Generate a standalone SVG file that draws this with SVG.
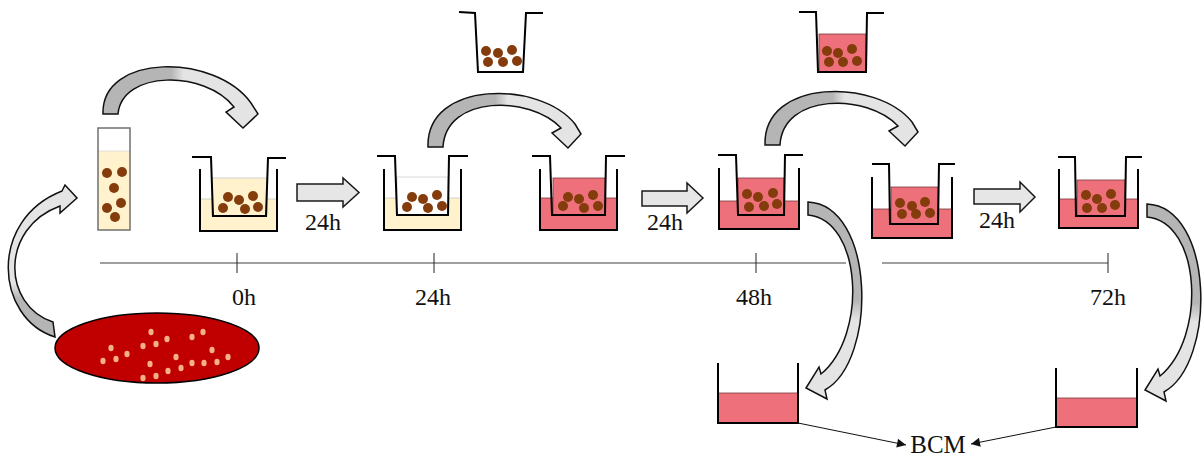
<svg xmlns="http://www.w3.org/2000/svg" width="1204" height="459" viewBox="0 0 1204 459">
  <style>
    .wall { fill: none; stroke: #000; stroke-width: 2; stroke-linejoin: miter; }
    .cream { fill: #FFF2CC; stroke: #C9C9C9; stroke-width: 0.8; }
    .pink { fill: #EE707A; stroke: #7a3a3f; stroke-width: 0.8; }
    .empty { fill: #fff; stroke: #D0D0D0; stroke-width: 0.8; }
    .cell { fill: #843C0C; }
    .colony { fill: #F4B183; }
    .block { fill: #E7E6E6; stroke: #1a1a1a; stroke-width: 1.5; stroke-linejoin: miter; }
    .curl { stroke: #111; stroke-width: 1.5; stroke-linejoin: miter; }
    .lbl { font-family: "Liberation Serif", "Times New Roman", serif; font-size: 24px; fill: #111; }
    .axis { stroke: #7F7F7F; stroke-width: 1.6; fill: none; }
    .tick { stroke: #222; stroke-width: 1; }
    .link { stroke: #111; stroke-width: 1; fill: none; marker-end: url(#head); }
  </style>
  <defs>
    <marker id="head" viewBox="0 0 10 10" refX="10" refY="5" markerWidth="11" markerHeight="9" markerUnits="userSpaceOnUse" orient="auto">
      <path d="M0,0 L10,5 L0,10 Z" fill="#111"/>
    </marker>
    <linearGradient id="shadeH" x1="0" y1="0" x2="1" y2="0">
      <stop offset="0" stop-color="#B5B5B5"/>
      <stop offset="0.44" stop-color="#B5B5B5"/>
      <stop offset="0.52" stop-color="#E4E4E4"/>
      <stop offset="1" stop-color="#E4E4E4"/>
    </linearGradient>
    <linearGradient id="shadeUp" x1="0" y1="1" x2="0" y2="0">
      <stop offset="0" stop-color="#B5B5B5"/>
      <stop offset="0.25" stop-color="#B5B5B5"/>
      <stop offset="0.35" stop-color="#E4E4E4"/>
      <stop offset="1" stop-color="#E4E4E4"/>
    </linearGradient>
    <linearGradient id="shadeDown" x1="0" y1="0" x2="0" y2="1">
      <stop offset="0" stop-color="#B5B5B5"/>
      <stop offset="0.5" stop-color="#B5B5B5"/>
      <stop offset="0.6" stop-color="#E4E4E4"/>
      <stop offset="1" stop-color="#E4E4E4"/>
    </linearGradient>
    <!-- curved transfer arrow, insert to insert -->
    <path id="curlOver" class="curl" fill="url(#shadeH)"
          d="M428,147 C426,80 540,80 575,124 L581,134 L568,148 L552,133 L561,128 C530,95 446,95 443,147 Z"/>
    <!-- curved collection arrow, well to supernatant -->
    <path id="curlDown" class="curl" fill="url(#shadeDown)"
          d="M808,202 C875,205 878,360 825,390 L827,399 L806,388 L819,367 L821,374 C868,335 862,220 808,215 Z"/>
  </defs>

  <!-- timeline -->
  <g id="timeline">
    <line class="axis" x1="100" y1="263" x2="846" y2="263"/>
    <line class="axis" x1="882" y1="263" x2="1108" y2="263"/>
    <line class="tick" x1="237" y1="253" x2="237" y2="273"/>
    <line class="tick" x1="434" y1="253" x2="434" y2="273"/>
    <line class="tick" x1="756" y1="253" x2="756" y2="273"/>
    <line class="tick" x1="1108" y1="253" x2="1108" y2="273"/>
    <text class="lbl" x="244" y="305" text-anchor="middle">0h</text>
    <text class="lbl" x="433" y="305" text-anchor="middle">24h</text>
    <text class="lbl" x="754" y="305" text-anchor="middle">48h</text>
    <text class="lbl" x="1108" y="305" text-anchor="middle">72h</text>
  </g>

  <!-- agar plate with colonies -->
  <g id="petri">
    <ellipse cx="157" cy="348" rx="102" ry="35" fill="#C00000" stroke="#000" stroke-width="1.5"/>
    <g class="colony">
      <ellipse cx="151" cy="332" rx="2.6" ry="3.2"/>
      <ellipse cx="203" cy="332" rx="2.6" ry="3.2"/>
      <ellipse cx="192" cy="337" rx="2.6" ry="3.2"/>
      <ellipse cx="167" cy="339" rx="2.6" ry="3.2"/>
      <ellipse cx="156" cy="344" rx="2.6" ry="3.2"/>
      <ellipse cx="143" cy="346" rx="2.6" ry="3.2"/>
      <ellipse cx="111" cy="348" rx="2.6" ry="3.2"/>
      <ellipse cx="212" cy="350" rx="2.6" ry="3.2"/>
      <ellipse cx="127" cy="354" rx="2.6" ry="3.2"/>
      <ellipse cx="116" cy="359" rx="2.6" ry="3.2"/>
      <ellipse cx="103" cy="361" rx="2.6" ry="3.2"/>
      <ellipse cx="176" cy="357" rx="2.6" ry="3.2"/>
      <ellipse cx="228" cy="357" rx="2.6" ry="3.2"/>
      <ellipse cx="150" cy="364" rx="2.6" ry="3.2"/>
      <ellipse cx="192" cy="363" rx="2.6" ry="3.2"/>
      <ellipse cx="204" cy="363" rx="2.6" ry="3.2"/>
      <ellipse cx="217" cy="362" rx="2.6" ry="3.2"/>
      <ellipse cx="181" cy="368" rx="2.6" ry="3.2"/>
      <ellipse cx="168" cy="371" rx="2.6" ry="3.2"/>
      <ellipse cx="156" cy="376" rx="2.6" ry="3.2"/>
      <ellipse cx="143" cy="378" rx="2.6" ry="3.2"/>
    </g>
  </g>

  <!-- overnight culture tube -->
  <g id="tube">
    <rect x="98" y="128" width="32" height="102" fill="#fff"/>
    <rect x="98" y="151" width="32" height="79" fill="#FFF2CC"/>
    <line x1="98" y1="151" x2="130" y2="151" stroke="#D8D8D8" stroke-width="0.8"/>
    <rect x="98" y="128" width="32" height="102" fill="none" stroke="#6F6F6F" stroke-width="1.5"/>
    <circle class="cell" cx="107" cy="173" r="5"/>
    <circle class="cell" cx="122" cy="172" r="5"/>
    <circle class="cell" cx="114" cy="188" r="5"/>
    <circle class="cell" cx="107" cy="208" r="5"/>
    <circle class="cell" cx="121" cy="203" r="5"/>
    <circle class="cell" cx="115" cy="217" r="5"/>
  </g>

  <!-- 0h: insert seeded in plain medium -->
  <g id="well-0h">
    <rect class="cream" x="200" y="199" width="77" height="32"/>
    <rect class="cream" x="212" y="178" width="55" height="38"/>
    <path class="wall" d="M200,169 L200,231 L277,231 L277,169"/>
    <path class="wall" d="M192,157 L211,157 L213,216 L266,216 L268,158 L286,158"/>
    <circle class="cell" cx="228" cy="197" r="5"/>
    <circle class="cell" cx="239" cy="200" r="5"/>
    <circle class="cell" cx="253" cy="196" r="5"/>
    <circle class="cell" cx="223" cy="208" r="5"/>
    <circle class="cell" cx="245" cy="209" r="5"/>
    <circle class="cell" cx="258" cy="207" r="5"/>
  </g>

  <!-- 24h: medium drained from insert -->
  <g id="well-24h-drained">
    <rect class="cream" x="384" y="198" width="77" height="32"/>
    <rect class="empty" x="397" y="177" width="51" height="38"/>
    <path class="wall" d="M384,169 L384,230 L461,230 L461,169"/>
    <path class="wall" d="M377,156 L395,156 L397,215 L448,215 L449,156 L468,156"/>
    <circle class="cell" cx="412" cy="197" r="5"/>
    <circle class="cell" cx="423" cy="199" r="5"/>
    <circle class="cell" cx="437" cy="195" r="5"/>
    <circle class="cell" cx="407" cy="207" r="5"/>
    <circle class="cell" cx="428" cy="208" r="5"/>
    <circle class="cell" cx="442" cy="206" r="5"/>
  </g>

  <!-- 24h: insert moved to fresh culture medium -->
  <g id="well-24h-fresh">
    <rect class="pink" x="540" y="198" width="77" height="32"/>
    <rect class="pink" x="553" y="178" width="52" height="37"/>
    <path class="wall" d="M540,169 L540,230 L617,230 L617,169"/>
    <path class="wall" d="M532,156 L550,156 L552,215 L605,215 L606,156 L625,156"/>
    <circle class="cell" cx="568" cy="197" r="5"/>
    <circle class="cell" cx="579" cy="199" r="5"/>
    <circle class="cell" cx="593" cy="195" r="5"/>
    <circle class="cell" cx="563" cy="206" r="5"/>
    <circle class="cell" cx="584" cy="208" r="5"/>
    <circle class="cell" cx="598" cy="206" r="5"/>
  </g>

  <!-- 48h -->
  <g id="well-48h">
    <rect class="pink" x="719" y="201" width="80" height="28"/>
    <rect class="pink" x="738" y="178" width="46" height="37"/>
    <path class="wall" d="M719,168 L719,229 L799,229 L799,168"/>
    <path class="wall" d="M718,155 L736,155 L738,215 L784,215 L785,155 L803,155"/>
    <circle class="cell" cx="747" cy="194" r="5"/>
    <circle class="cell" cx="758" cy="197" r="5"/>
    <circle class="cell" cx="773" cy="193" r="5"/>
    <circle class="cell" cx="749" cy="207" r="5"/>
    <circle class="cell" cx="764" cy="206" r="5"/>
    <circle class="cell" cx="777" cy="204" r="5"/>
  </g>

  <!-- 48h: insert moved to new well -->
  <g id="well-48h-moved">
    <rect class="pink" x="872" y="209" width="80" height="29"/>
    <rect class="pink" x="891" y="187" width="47" height="37"/>
    <path class="wall" d="M872,177 L872,238 L952,238 L952,177"/>
    <path class="wall" d="M872,164 L889,164 L890,224 L938,224 L939,164 L955,164"/>
    <circle class="cell" cx="900" cy="203" r="5"/>
    <circle class="cell" cx="912" cy="206" r="5"/>
    <circle class="cell" cx="925" cy="202" r="5"/>
    <circle class="cell" cx="902" cy="214" r="5"/>
    <circle class="cell" cx="916" cy="214" r="5"/>
    <circle class="cell" cx="930" cy="213" r="5"/>
  </g>

  <!-- 72h -->
  <g id="well-72h">
    <rect class="pink" x="1059" y="199" width="79" height="29"/>
    <rect class="pink" x="1077" y="180" width="48" height="36"/>
    <path class="wall" d="M1059,169 L1059,228 L1138,228 L1138,169"/>
    <path class="wall" d="M1058,157 L1075,157 L1076,216 L1125,216 L1126,157 L1142,157"/>
    <circle class="cell" cx="1086" cy="195" r="5"/>
    <circle class="cell" cx="1097" cy="199" r="5"/>
    <circle class="cell" cx="1111" cy="194" r="5"/>
    <circle class="cell" cx="1087" cy="208" r="5"/>
    <circle class="cell" cx="1102" cy="208" r="5"/>
    <circle class="cell" cx="1115" cy="205" r="5"/>
  </g>

  <!-- insert lifted out, drained -->
  <g id="insert-drained">
    <path class="wall" d="M459,12 L475,13 L478,72 L523,72 L526,13 L543,13"/>
    <circle class="cell" cx="486" cy="51" r="5"/>
    <circle class="cell" cx="498" cy="53" r="5"/>
    <circle class="cell" cx="512" cy="50" r="5"/>
    <circle class="cell" cx="488" cy="62" r="5"/>
    <circle class="cell" cx="503" cy="62" r="5"/>
    <circle class="cell" cx="517" cy="61" r="5"/>
  </g>

  <!-- insert lifted out, with medium -->
  <g id="insert-filled">
    <rect class="pink" x="819" y="34" width="47" height="38"/>
    <path class="wall" d="M799,12 L816,12 L818,72 L866,72 L867,13 L884,13"/>
    <circle class="cell" cx="827" cy="51" r="5"/>
    <circle class="cell" cx="838" cy="53" r="5"/>
    <circle class="cell" cx="852" cy="49" r="5"/>
    <circle class="cell" cx="829" cy="62" r="5"/>
    <circle class="cell" cx="843" cy="62" r="5"/>
    <circle class="cell" cx="857" cy="61" r="5"/>
  </g>

  <!-- collected supernatants -->
  <g id="bcm-well-48h">
    <rect class="pink" x="718" y="393" width="80" height="30"/>
    <path class="wall" d="M718,363 L718,423 L798,423 L798,363"/>
  </g>
  <g id="bcm-well-72h">
    <rect class="pink" x="1056" y="398" width="81" height="29"/>
    <path class="wall" d="M1056,368 L1056,427 L1137,427 L1137,368"/>
  </g>
  <g id="bcm-label">
    <text x="938" y="453" text-anchor="middle" font-family="'Liberation Serif', 'Times New Roman', serif" font-size="25" fill="#111">BCM</text>
  </g>

  <!-- connectors -->
  <g id="connectors">
    <!-- 24h incubation steps -->
    <path class="block" d="M297,184 L343,184 L343,178 L359,192.5 L343,207 L343,201 L297,201 Z"/>
    <path class="block" d="M642,191 L687,191 L687,183 L703,198 L687,213 L687,206 L642,206 Z"/>
    <path class="block" d="M974,189 L1020,189 L1020,182 L1035,197 L1020,212 L1020,204 L974,204 Z"/>
    <text class="lbl" x="305" y="230">24h</text>
    <text class="lbl" x="647" y="230">24h</text>
    <text class="lbl" x="979" y="228">24h</text>

    <!-- plate to tube -->
    <path class="curl" fill="url(#shadeUp)"
          d="M55,337 C-5,318 -12,220 62,191 L65,185 L77,198 L60,213 L60,206 C0,228 2,305 53,322 Z"/>
    <!-- tube to insert -->
    <path class="curl" fill="url(#shadeH)"
          d="M103,114 C101,53 215,53 251,103 L258,114 L243,128 L226,112 L234,107 C205,70 122,70 118,114 Z"/>
    <!-- insert transfers -->
    <use href="#curlOver"/>
    <use href="#curlOver" x="337" y="-2"/>
    <!-- supernatant collection -->
    <use href="#curlDown"/>
    <use href="#curlDown" x="339" y="2"/>

    <!-- supernatants pooled as BCM -->
    <line class="link" x1="798" y1="423" x2="906" y2="445"/>
    <line class="link" x1="1056" y1="427" x2="971" y2="444"/>
  </g>
</svg>
